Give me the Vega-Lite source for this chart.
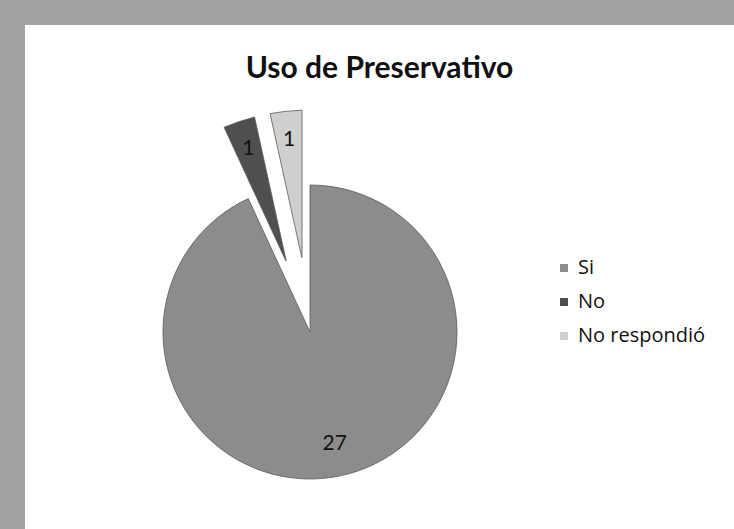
{
  "$schema": "https://vega.github.io/schema/vega-lite/v6.json",
  "autosize": "none",
  "width": 709,
  "height": 504,
  "padding": {"left": 25, "top": 25, "right": 0, "bottom": 0},
  "background": "#a3a3a3",
  "view": {"fill": "white", "stroke": null},
  "config": {
    "font": "Lato"
  },
  "title": {
    "text": "Uso de Preservativo",
    "font": "Lato",
    "fontSize": 30,
    "fontWeight": "bold",
    "color": "#111111",
    "anchor": "middle",
    "offset": -59
  },
  "data": {
    "values": [
      {"cat": "Si", "valor": 27, "orden": 1},
      {"cat": "No", "valor": 1, "orden": 2},
      {"cat": "No respondió", "valor": 1, "orden": 3}
    ]
  },
  "encoding": {
    "theta": {"field": "valor", "type": "quantitative", "stack": true},
    "order": {"field": "orden", "type": "quantitative"}
  },
  "layer": [
    {
      "mark": {"type": "point", "opacity": 0},
      "encoding": {
        "theta": null,
        "order": null,
        "x": {"field": "valor", "type": "quantitative", "axis": null}
      }
    },
    {
      "mark": {"type": "arc", "outerRadius": 147, "x": 285, "y": 307, "stroke": "#5a5a5a", "strokeWidth": 0.8},
      "encoding": {
        "color": {
          "field": "cat",
          "type": "nominal",
          "scale": {"domain": ["Si", "No", "No respondió"], "range": ["#8c8c8c", "#4f4f4f", "#cfcfcf"]},
          "legend": {
            "title": null,
            "orient": "none",
            "legendX": 529,
            "legendY": 233,
            "symbolType": "square",
            "symbolSize": 64,
            "symbolStrokeWidth": 0,
            "labelFont": "Open Sans",
            "labelFontSize": 20,
            "labelColor": "#111111",
            "labelOffset": 4,
            "rowPadding": 14
          }
        },
        "opacity": {"condition": {"test": "datum.cat === 'Si'", "value": 1}, "value": 0}
      }
    },
    {
      "mark": {"type": "arc", "outerRadius": 222, "innerRadius": 75, "padAngle": 0.068, "x": 285, "y": 307, "stroke": "#5a5a5a", "strokeWidth": 0.8},
      "encoding": {
        "color": {"field": "cat", "type": "nominal"},
        "opacity": {"condition": {"test": "datum.cat !== 'Si'", "value": 1}, "value": 0}
      }
    },
    {
      "mark": {"type": "text", "radius": 115, "x": 285, "y": 307, "fontSize": 21, "font": "Lato", "fill": "#111111"},
      "encoding": {
        "text": {"field": "valor", "type": "quantitative"},
        "opacity": {"condition": {"test": "datum.cat === 'Si'", "value": 1}, "value": 0}
      }
    },
    {
      "mark": {"type": "text", "radius": 193, "x": 285, "y": 307, "fontSize": 21, "font": "Lato", "fill": "#111111"},
      "encoding": {
        "text": {"field": "valor", "type": "quantitative"},
        "opacity": {"condition": {"test": "datum.cat !== 'Si'", "value": 1}, "value": 0}
      }
    }
  ]
}
